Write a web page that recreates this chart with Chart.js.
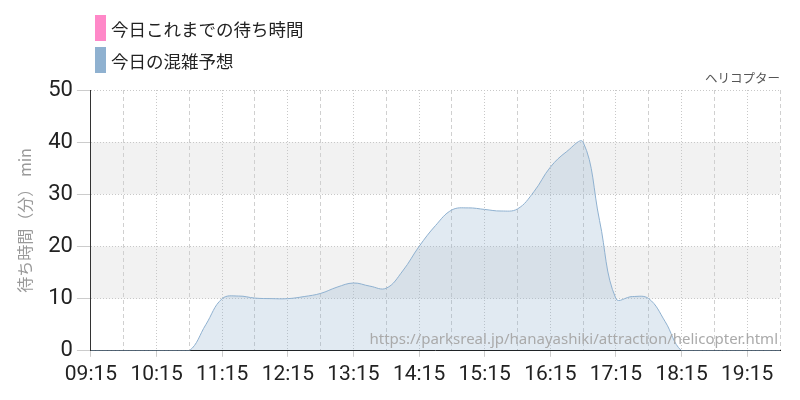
<!DOCTYPE html>
<html>
<head>
<meta charset="utf-8">
<script src="https://cdn.jsdelivr.net/npm/chart.js@4.4.1/dist/chart.umd.min.js"></script>
<style>
  html, body { margin: 0; padding: 0; background: #fff; }
  #wrap { position: relative; width: 800px; height: 400px; }
  #legend { position: absolute; left: 95px; top: 15px; margin: 0; padding: 0; list-style: none;
            font-family: "Noto Sans CJK JP", sans-serif; font-size: 17.5px; color: #222; }
  #legend li { display: flex; align-items: center; height: 26px; margin-bottom: 6px; }
  #legend li span.box { display: inline-block; width: 11px; height: 26px; margin-right: 5px; }
</style>
</head>
<body>
<div id="wrap">
  <canvas id="myChart" width="800" height="400"></canvas>
  <ul id="legend"></ul>
</div>
<script>
/**
 *  ! Data
 * **/
const times = [
  "09:15", "09:30", "09:45", "10:00", "10:15", "10:30", "10:45", "11:00",
  "11:15", "11:30", "11:45", "12:00", "12:15", "12:30", "12:45", "13:00",
  "13:15", "13:30", "13:45", "14:00", "14:15", "14:30", "14:45", "15:00",
  "15:15", "15:30", "15:45", "16:00", "16:15", "16:30", "16:45", "17:00",
  "17:15", "17:30", "17:45", "18:00", "18:15", "18:30", "18:45", "19:00",
  "19:15", "19:30", "19:45",
];
const forecast = [
  0, 0, 0, 0, 0, 0, 0, 5,
  10, 10.5, 10.1, 10, 10, 10.4, 11, 12.2,
  13, 12.4, 12, 15.3, 20, 24, 27, 27.4,
  27.1, 26.8, 27.2, 30.5, 35.2, 38.2, 40, 25,
  10, 10.4, 10, 5.6, 0, 0, 0, 0,
  0, 0, 0,
];
const actual = []; // 今日これまでの待ち時間 (no values yet)

const hourTicks = ["09:15", "10:15", "11:15", "12:15", "13:15", "14:15", "15:15", "16:15", "17:15", "18:15", "19:15"];
const halfTicks = ["09:45", "10:45", "11:45", "12:45", "13:45", "14:45", "15:45", "16:45", "17:45", "18:45", "19:45"];
const yTicks = [0, 10, 20, 30, 40, 50];
const bandRanges = [[10, 20], [30, 40]];

const toMin = (t) => {
  const [h, m] = t.split(":").map(Number);
  return h * 60 + m;
};
const fmt = (v) => {
  const h = Math.floor(v / 60);
  const m = v % 60;
  return String(h).padStart(2, "0") + ":" + String(m).padStart(2, "0");
};

/**
 *  ! Plugins
 * **/
// gray bands behind the grid
const bandsPlugin = {
  id: "bands",
  beforeDraw(chart) {
    const { ctx, chartArea, scales } = chart;
    ctx.save();
    ctx.fillStyle = "#f2f2f2";
    bandRanges.forEach(([a, b]) => {
      const top = scales.y.getPixelForValue(b);
      const bottom = scales.y.getPixelForValue(a);
      ctx.fillRect(chartArea.left, top, chartArea.right - chartArea.left, bottom - top);
    });
    ctx.restore();
  },
};

// url text at bottom right of the plot
const sourcePlugin = {
  id: "source",
  afterDraw(chart) {
    const { ctx, chartArea } = chart;
    ctx.save();
    ctx.font = "15px 'Noto Sans', sans-serif";
    ctx.fillStyle = "#aaaaaa";
    ctx.textAlign = "right";
    ctx.textBaseline = "alphabetic";
    ctx.fillText("https://parksreal.jp/hanayashiki/attraction/helicopter.html", chartArea.right - 2, chartArea.bottom - 7);
    ctx.restore();
  },
};

// legend as html list, stacked
const htmlLegendPlugin = {
  id: "htmlLegend",
  afterUpdate(chart) {
    const ul = document.getElementById("legend");
    ul.innerHTML = "";
    const items = chart.options.plugins.legend.labels.generateLabels(chart);
    items.forEach((item) => {
      const li = document.createElement("li");
      const box = document.createElement("span");
      box.className = "box";
      box.style.background = item.strokeStyle;
      const text = document.createElement("span");
      text.textContent = item.text;
      li.appendChild(box);
      li.appendChild(text);
      ul.appendChild(li);
    });
  },
};

/**
 *  ! Chart
 * **/
const ctx = document.getElementById("myChart");

new Chart(ctx, {
  type: "line",
  data: {
    datasets: [
      {
        label: "今日これまでの待ち時間",
        data: actual.map((v, i) => ({ x: toMin(times[i]), y: v })),
        borderColor: "#ff88c8",
        backgroundColor: "#ff88c8",
        borderWidth: 2,
        pointRadius: 0,
      },
      {
        label: "今日の混雑予想",
        data: forecast.map((v, i) => ({ x: toMin(times[i]), y: v })),
        borderColor: "#8fb1d0",
        backgroundColor: "rgba(143, 177, 208, 0.27)",
        borderWidth: 1,
        fill: "origin",
        tension: 0.4,
        pointRadius: 0,
      },
    ],
  },
  options: {
    responsive: false,
    animation: false,
    layout: { padding: { top: 70, left: 10, right: 20, bottom: 8 } },
    scales: {
      x: {
        type: "linear",
        min: toMin(times[0]),
        max: toMin(times[times.length - 1]),
        afterBuildTicks: (axis) => {
          axis.ticks = hourTicks.map((t) => ({ value: toMin(t) }));
        },
        ticks: {
          autoSkip: false,
          maxRotation: 0,
          color: "#222",
          font: { family: "Roboto, sans-serif", size: 21 },
          padding: 5,
          callback: (value) => fmt(value),
        },
        grid: {
          color: "#c8c8c8",
          tickLength: 6,
          tickColor: "#cccccc",
        },
        border: { display: true, color: "#111", dash: [1, 2] },
      },
      xHalf: {
        type: "linear",
        position: "bottom",
        min: toMin(times[0]),
        max: toMin(times[times.length - 1]),
        afterBuildTicks: (axis) => {
          axis.ticks = halfTicks.map((t) => ({ value: toMin(t) }));
        },
        ticks: { display: false },
        grid: { color: "#d0d0d0", drawTicks: false },
        border: { display: false, dash: [4, 3] },
      },
      y: {
        min: 0,
        max: 50,
        afterBuildTicks: (axis) => {
          axis.ticks = yTicks.map((v) => ({ value: v }));
        },
        ticks: {
          color: "#222",
          font: { family: "Roboto, sans-serif", size: 22 },
          padding: 4,
        },
        grid: {
          color: "#c8c8c8",
          tickLength: 14,
          tickColor: "#cccccc",
        },
        border: { display: true, color: "#333", dash: [1, 2] },
        title: {
          display: true,
          text: "待ち時間（分） min",
          color: "#999",
          font: { family: "'Noto Sans CJK JP', sans-serif", size: 16 },
          padding: { top: 5, bottom: 10 },
        },
      },
    },
    plugins: {
      legend: { display: false },
      tooltip: { enabled: false },
      title: {
        display: true,
        text: "ヘリコプター",
        align: "end",
        color: "#555",
        font: { family: "'Noto Sans CJK JP', sans-serif", size: 12.5, weight: "normal" },
        padding: { top: 1, bottom: 4 },
      },
    },
  },
  plugins: [bandsPlugin, sourcePlugin, htmlLegendPlugin],
});
</script>
</body>
</html>
